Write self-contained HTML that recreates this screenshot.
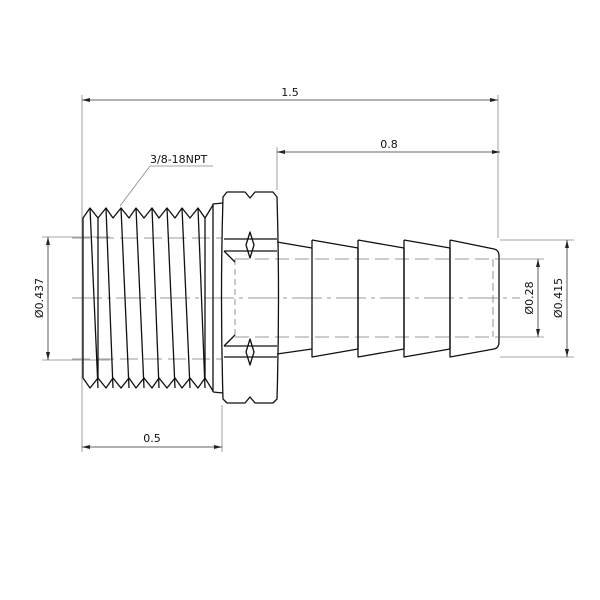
<!DOCTYPE html>
<html><head><style>
html,body{margin:0;padding:0;background:#fff;}
svg{display:block;}
text{font-family:"DejaVu Sans","Liberation Sans",sans-serif;font-size:11px;fill:#111;}
</style></head><body>
<svg width="600" height="600" viewBox="0 0 600 600" xmlns="http://www.w3.org/2000/svg">
<defs>
<marker id="a" markerWidth="8" markerHeight="6" refX="8" refY="3" orient="auto-start-reverse" markerUnits="userSpaceOnUse">
<path d="M0,1 L8,3 L0,5 Z" fill="#222"/></marker>
</defs>
<g stroke="#888" stroke-width="0.8" fill="none">
<!-- extension lines -->
<line x1="82" y1="95" x2="82" y2="452"/>
<line x1="498" y1="95" x2="498" y2="238"/>
<line x1="277" y1="147" x2="277" y2="190"/>
<line x1="222" y1="405" x2="222" y2="452"/>
<line x1="42" y1="237" x2="110" y2="237"/>
<line x1="42" y1="360" x2="110" y2="360"/>
<line x1="500" y1="240" x2="574" y2="240"/>
<line x1="500" y1="357" x2="574" y2="357"/>
<line x1="500" y1="259" x2="544" y2="259"/>
<line x1="500" y1="337" x2="544" y2="337"/>
<!-- leader -->
<polyline points="120,206 150,166 213,166"/>
</g>
<g stroke="#333" stroke-width="0.8" fill="none">
<line x1="82" y1="100" x2="498" y2="100" marker-start="url(#a)" marker-end="url(#a)"/>
<line x1="277" y1="152" x2="500" y2="152" marker-start="url(#a)" marker-end="url(#a)"/>
<line x1="82" y1="447" x2="222" y2="447" marker-start="url(#a)" marker-end="url(#a)"/>
<line x1="48" y1="237" x2="48" y2="360" marker-start="url(#a)" marker-end="url(#a)"/>
<line x1="538" y1="259" x2="538" y2="337" marker-start="url(#a)" marker-end="url(#a)"/>
<line x1="567" y1="240" x2="567" y2="357" marker-start="url(#a)" marker-end="url(#a)"/>
</g>
<!-- center / hidden lines -->
<g stroke="#777" stroke-width="0.8" fill="none">
<line x1="72" y1="298" x2="520" y2="298" stroke-dasharray="30,5,4,5"/>
<line x1="72" y1="238" x2="222" y2="238" stroke-dasharray="18,6"/>
<line x1="72" y1="359" x2="222" y2="359" stroke-dasharray="18,6"/>
<line x1="235" y1="259" x2="498" y2="259" stroke-dasharray="14,6"/>
<line x1="235" y1="337" x2="498" y2="337" stroke-dasharray="14,6"/>
<line x1="235" y1="259" x2="235" y2="337" stroke-dasharray="6,4"/>
<line x1="493" y1="259" x2="493" y2="337" stroke-dasharray="8,4"/>
</g>
<g stroke="#111" stroke-width="1.3" fill="none" stroke-linejoin="round">
<!-- thread -->
<path d="M83,218 L90,208 L98,218 L106,208 L113,218 L121,208 L129,218 L136,208 L144,218 L152,208 L159,218 L167,208 L175,218 L182,208 L190,218 L198,208 L205,218 L213,205"/>
<path d="M83,378 L90,388 L98,378 L106,388 L113,378 L121,388 L129,378 L136,388 L144,378 L152,388 L159,378 L167,388 L175,378 L182,388 L190,378 L198,388 L205,378 L213,391"/>
<line x1="83" y1="218" x2="83" y2="378"/>
<line x1="90" y1="208" x2="98" y2="388"/><line x1="98" y1="218" x2="98" y2="378"/>
<line x1="106" y1="208" x2="113" y2="388"/>
<line x1="121" y1="208" x2="129" y2="388"/>
<line x1="136" y1="208" x2="144" y2="388"/>
<line x1="152" y1="208" x2="159" y2="388"/>
<line x1="167" y1="208" x2="175" y2="388"/>
<line x1="182" y1="208" x2="190" y2="388"/>
<line x1="198" y1="208" x2="205" y2="388"/>
<line x1="205" y1="218" x2="205" y2="378"/>
<!-- step -->
<path d="M213,392 L213,204 L223,203 M213,392 L223,393"/>
<!-- hex -->
<path d="M227,192 L245,192 L250,198 L255,192 L273,192 L277,197 Q280,298 277,399 L273,403 L255,403 L250,397 L245,403 L227,403 L223,399 Q220,298 223,197 Z"/>
<line x1="224" y1="239" x2="277" y2="239"/><line x1="224" y1="251" x2="277" y2="251"/>
<line x1="224" y1="346" x2="277" y2="346"/><line x1="224" y1="357" x2="277" y2="357"/>
<path d="M250,232 L254,245 L250,258 L246,245 Z"/>
<path d="M250,339 L254,352 L250,365 L246,352 Z"/>
<line x1="224" y1="251" x2="235" y2="262"/><line x1="224" y1="346" x2="235" y2="335"/>
<!-- stem -->
<path d="M277,242 L312,248 M277,354 L312,349"/>
<!-- barbs -->
<path d="M312,240 L312,357 L358,349 M312,240 L358,248 L358,349"/>
<path d="M358,240 L358,357 L404,349 L404,248 L358,240"/>
<path d="M404,240 L404,357 L450,349 L450,248 L404,240"/>
<path d="M450,240 L450,357 L494,349 Q499,348 499,342 L499,256 Q499,250 494,249 L450,240"/>
</g>
<text x="290" y="96" text-anchor="middle">1.5</text>
<text x="389" y="148" text-anchor="middle">0.8</text>
<text x="152" y="442" text-anchor="middle">0.5</text>
<text x="150" y="163">3/8-18NPT</text>
<text transform="translate(43,298) rotate(-90)" text-anchor="middle">Ø0.437</text>
<text transform="translate(533,298) rotate(-90)" text-anchor="middle">Ø0.28</text>
<text transform="translate(562,298) rotate(-90)" text-anchor="middle">Ø0.415</text>
</svg>
</body></html>
